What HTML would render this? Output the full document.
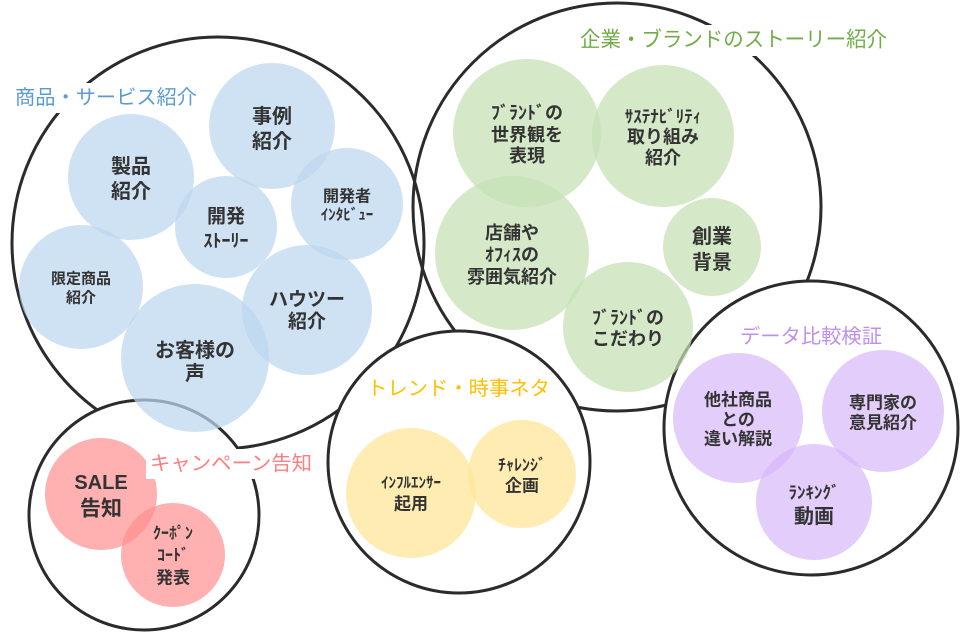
<!DOCTYPE html>
<html><head><meta charset="utf-8"><style>
html,body{margin:0;padding:0;background:#fff;}
svg{display:block;}
text{font-family:"Liberation Sans","Noto Sans CJK JP",sans-serif;}
.t{fill:#333;font-weight:bold;text-anchor:middle;dominant-baseline:central;}
.o{stroke:#2b2b2b;stroke-width:3;}
</style></head><body>
<svg width="960" height="632" viewBox="0 0 960 632" xmlns="http://www.w3.org/2000/svg">
<!-- outer circles -->
<circle class="o" cx="218" cy="243" r="206" fill="none"/>
<circle class="o" cx="617" cy="207" r="204" fill="none"/>
<circle class="o" cx="459" cy="462" r="131" fill="#fff"/>
<circle class="o" cx="811" cy="428" r="147" fill="#fff"/>
<circle class="o" cx="144" cy="515" r="115" fill="#fff"/>

<!-- blue -->
<g fill="#bdd7ee" fill-opacity="0.72">
<circle cx="272" cy="126" r="63"/>
<circle cx="131" cy="177" r="63"/>
<circle cx="226" cy="227" r="51"/>
<circle cx="347" cy="204" r="56"/>
<circle cx="81" cy="287" r="62"/>
<circle cx="307" cy="310" r="65"/>
<circle cx="195" cy="358" r="74"/>
</g>
<!-- green -->
<g fill="#c5e0b4" fill-opacity="0.72">
<circle cx="527" cy="133" r="74"/>
<circle cx="663" cy="136" r="71"/>
<circle cx="512" cy="253" r="77"/>
<circle cx="712" cy="247" r="49"/>
<circle cx="628" cy="327" r="65"/>
</g>
<!-- pink -->
<g fill="#ff8f8f" fill-opacity="0.7">
<circle cx="101" cy="494" r="56"/>
<circle cx="173" cy="555" r="52"/>
</g>
<!-- yellow -->
<g fill="#ffe699" fill-opacity="0.75">
<circle cx="411" cy="493" r="65"/>
<circle cx="522" cy="474" r="54"/>
</g>
<!-- purple -->
<g fill="#d6b6f7" fill-opacity="0.68">
<circle cx="738" cy="418" r="65"/>
<circle cx="883" cy="411" r="61"/>
<circle cx="814" cy="502" r="58"/>
</g>

<!-- label backgrounds -->
<rect x="12" y="83" width="190" height="30" fill="#fff"/>
<rect x="574" y="25" width="318" height="31" fill="#fff"/>
<rect x="146" y="449" width="170" height="30" fill="#fff"/>

<!-- labels -->
<text x="15" y="98" font-size="20" fill="#5b9bd5" dominant-baseline="central" textLength="182" lengthAdjust="spacingAndGlyphs">商品・サービス紹介</text>
<text x="580" y="40" font-size="21" fill="#70ad47" dominant-baseline="central" textLength="307" lengthAdjust="spacingAndGlyphs">企業・ブランドのストーリー紹介</text>
<text x="150" y="464" font-size="20" fill="#ff7c80" dominant-baseline="central" textLength="162" lengthAdjust="spacingAndGlyphs">キャンペーン告知</text>
<text x="367" y="389" font-size="20" fill="#ffc000" dominant-baseline="central" textLength="183" lengthAdjust="spacingAndGlyphs">トレンド・時事ネタ</text>
<text x="740" y="337" font-size="20" fill="#bf8ff0" dominant-baseline="central" textLength="142" lengthAdjust="spacingAndGlyphs">データ比較検証</text>

<!-- blue texts -->
<text class="t" x="272" y="117" font-size="20">事例</text>
<text class="t" x="272" y="142" font-size="20">紹介</text>
<text class="t" x="131" y="167" font-size="20">製品</text>
<text class="t" x="131" y="192" font-size="20">紹介</text>
<text class="t" x="226" y="217" font-size="19">開発</text>
<text class="t" x="226" y="241" font-size="18">ｽﾄｰﾘｰ</text>
<text class="t" x="347" y="197" font-size="16">開発者</text>
<text class="t" x="347" y="215" font-size="15">ｲﾝﾀﾋﾞｭｰ</text>
<text class="t" x="81" y="279" font-size="15">限定商品</text>
<text class="t" x="81" y="298" font-size="15">紹介</text>
<text class="t" x="307" y="300" font-size="19">ハウツー</text>
<text class="t" x="307" y="322" font-size="19">紹介</text>
<text class="t" x="195" y="351" font-size="20">お客様の</text>
<text class="t" x="195" y="374" font-size="20">声</text>

<!-- green texts -->
<text class="t" x="527" y="113" font-size="18">ﾌﾞﾗﾝﾄﾞの</text>
<text class="t" x="527" y="135" font-size="18">世界観を</text>
<text class="t" x="527" y="156" font-size="18">表現</text>
<text class="t" x="663" y="117" font-size="17">ｻｽﾃﾅﾋﾞﾘﾃｨ</text>
<text class="t" x="663" y="137" font-size="18">取り組み</text>
<text class="t" x="663" y="158" font-size="18">紹介</text>
<text class="t" x="512" y="233" font-size="18">店舗や</text>
<text class="t" x="512" y="255" font-size="18">ｵﾌｨｽの</text>
<text class="t" x="512" y="277" font-size="18">雰囲気紹介</text>
<text class="t" x="712" y="237" font-size="20">創業</text>
<text class="t" x="712" y="263" font-size="20">背景</text>
<text class="t" x="628" y="318" font-size="18">ﾌﾞﾗﾝﾄﾞの</text>
<text class="t" x="628" y="339" font-size="18">こだわり</text>

<!-- pink texts -->
<text class="t" x="101" y="483" font-size="20">SALE</text>
<text class="t" x="101" y="509" font-size="21">告知</text>
<text class="t" x="173" y="534" font-size="16">ｸｰﾎﾟﾝ</text>
<text class="t" x="173" y="556" font-size="16">ｺｰﾄﾞ</text>
<text class="t" x="173" y="578" font-size="17">発表</text>

<!-- yellow texts -->
<text class="t" x="411" y="483" font-size="15">ｲﾝﾌﾙｴﾝｻｰ</text>
<text class="t" x="411" y="504" font-size="17">起用</text>
<text class="t" x="522" y="466" font-size="16">ﾁｬﾚﾝｼﾞ</text>
<text class="t" x="522" y="486" font-size="17">企画</text>

<!-- purple texts -->
<text class="t" x="738" y="400" font-size="17">他社商品</text>
<text class="t" x="738" y="420" font-size="17">との</text>
<text class="t" x="738" y="439" font-size="17">違い解説</text>
<text class="t" x="883" y="403" font-size="17">専門家の</text>
<text class="t" x="883" y="423" font-size="17">意見紹介</text>
<text class="t" x="814" y="493" font-size="17">ﾗﾝｷﾝｸﾞ</text>
<text class="t" x="814" y="517" font-size="20">動画</text>
</svg>
</body></html>
